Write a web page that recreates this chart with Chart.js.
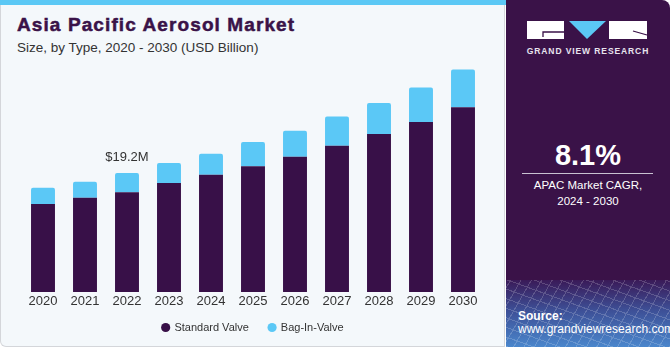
<!DOCTYPE html>
<html>
<head>
<meta charset="utf-8">
<script src="https://cdn.jsdelivr.net/npm/chart.js@4"></script>
<style>
  html, body { margin: 0; padding: 0; background: #ffffff; }
  body { width: 670px; height: 350px; position: relative; overflow: hidden; font-family: "Liberation Sans", Arial, sans-serif; }
  #left { position: absolute; left: 0; top: 0; width: 505px; height: 347px; background: #f4f8fb;
          border: 1px solid #d4d6da; border-top: none; border-radius: 0 0 0 6px; box-sizing: border-box; }
  #stripe { position: absolute; left: 0; top: 0; width: 506px; height: 5px; background: #5bc8f5; }
  #title { position: absolute; left: 17px; top: 14px; font-size: 19px; font-weight: bold; color: #3a1248;
           letter-spacing: 1.1px; -webkit-text-stroke: 0.5px #3a1248; white-space: nowrap; }
  #subtitle { position: absolute; left: 17px; top: 40px; font-size: 13.5px; color: #333; white-space: nowrap; }
  #chartBox { position: absolute; left: 0; top: 0; width: 506px; height: 350px; }
  #right { position: absolute; left: 506px; top: 0; width: 164px; height: 347px; background: #3a1248;
           border-radius: 0 8px 0 0; overflow: hidden; }
  #source { position: absolute; left: 0; top: 280px; width: 164px; height: 67px;
            background: linear-gradient(180deg, #3a1a58 0%, #3d4f96 45%, #4a86cc 100%); }
  #mesh { position: absolute; left: 0; top: 0; width: 100%; height: 100%; opacity: 0.18;
          background-image: repeating-linear-gradient(20deg, #fff 0 1px, transparent 1px 9px),
                            repeating-linear-gradient(-60deg, #fff 0 1px, transparent 1px 9px); }
  .w { position: absolute; color: #fff; white-space: nowrap; }
  #cagr { left: 0; width: 164px; top: 139px; text-align: center; font-size: 29px; font-weight: bold; }
  #rule { position: absolute; left: 16px; top: 173px; width: 131px; height: 1px; background: #c9c2d2; }
  #cagrText { left: 0; width: 164px; top: 177px; text-align: center; font-size: 11.5px; line-height: 16px; }
  #srcLabel { left: 12px; top: 309px; font-size: 12px; font-weight: bold; }
  #srcUrl { left: 12px; top: 322px; font-size: 12px; }
  #brand { left: 0; width: 164px; top: 46px; text-align: center; font-size: 8.5px; font-weight: bold; letter-spacing: 0.9px; color: #e8e4ee; }
</style>
</head>
<body>
<div id="left"></div>
<div id="stripe"></div>
<div id="title">Asia Pacific Aerosol Market</div>
<div id="subtitle">Size, by Type, 2020 - 2030 (USD Billion)</div>
<div id="chartBox"><canvas id="aerosolChart"></canvas></div>
<div id="right">
  <svg style="position:absolute;left:0;top:0" width="164" height="45">
    <rect x="21" y="21" width="37" height="18" fill="#ffffff"/>
    <polyline points="58,32 37,32 37,37" fill="none" stroke="#3a1248" stroke-width="1.3"/>
    <polygon points="63,21 100,21 81,39" fill="#5bc8f5"/>
    <rect x="103" y="21" width="38" height="18" fill="#ffffff"/>
    <line x1="127" y1="31" x2="141" y2="35" stroke="#3a1248" stroke-width="1.3"/>
  </svg>
  <div class="w" id="brand">GRAND VIEW RESEARCH</div>
  <div class="w" id="cagr">8.1%</div>
  <div id="rule"></div>
  <div class="w" id="cagrText">APAC Market CAGR,<br>2024 - 2030</div>
  <div id="source"><div id="mesh"></div></div>
  <div class="w" id="srcLabel">Source:</div>
  <div class="w" id="srcUrl">www.grandviewresearch.com</div>
</div>
<script>
const years = ['2020', '2021', '2022', '2023', '2024', '2025', '2026', '2027', '2028', '2029', '2030'];
const standardValve = [14.2, 15.2, 16.1, 17.6, 18.9, 20.3, 21.8, 23.6, 25.5, 27.4, 29.8];
const bagInValve = [2.6, 2.6, 3.1, 3.2, 3.4, 3.9, 4.2, 4.7, 5.0, 5.6, 6.1];
const calloutIndex = 2;
const calloutText = '$19.2M';

// value label above the 2022 stack
const calloutPlugin = {
    id: 'callout',
    afterDatasetsDraw(chart) {
        const bar = chart.getDatasetMeta(1).data[calloutIndex];
        const ctx = chart.ctx;
        ctx.save();
        ctx.font = '13px "Liberation Sans", Arial, sans-serif';
        ctx.fillStyle = '#333333';
        ctx.textAlign = 'center';
        ctx.textBaseline = 'middle';
        ctx.fillText(calloutText, bar.x, bar.y - 16);
        ctx.restore();
    }
};

// x axis is squeezed to 10px so the legend sits close; let its labels overflow the box
const labelRoom = {
    id: 'labelRoom',
    afterLayout(chart) {
        chart.scales.x.bottom = chart.scales.x.top + 22;
    }
};

const ctx = document.getElementById('aerosolChart').getContext('2d');
const myChart = new Chart(ctx, {
    type: 'bar',
    data: {
        labels: years,
        datasets: [{
            label: 'Standard Valve',
            data: standardValve,
            backgroundColor: '#381048',
            borderWidth: 0
        }, {
            label: 'Bag-In-Valve',
            data: bagInValve,
            backgroundColor: '#5bc8f6',
            borderWidth: 0,
            borderRadius: {topLeft: 2, topRight: 2}
        }]
    },
    options: {
        responsive: true,
        maintainAspectRatio: false,
        animation: false,
        layout: {
            padding: {left: 22, right: 22, top: 44, bottom: 7}
        },
        datasets: {
            bar: {categoryPercentage: 1, barPercentage: 0.57}
        },
        plugins: {
            tooltip: {enabled: false},
            legend: {
                position: 'bottom',
                labels: {
                    usePointStyle: true,
                    pointStyle: 'circle',
                    boxWidth: 6.5,
                    boxHeight: 6.5,
                    padding: 20,
                    color: '#333333',
                    font: {family: '"Liberation Sans", Arial, sans-serif', size: 11}
                }
            }
        },
        scales: {
            x: {
                stacked: true,
                grid: {display: false, drawTicks: false},
                border: {display: false},
                ticks: {
                    padding: 2,
                    color: '#333333',
                    font: {family: '"Liberation Sans", Arial, sans-serif', size: 13}
                },
                afterFit: (axis) => { axis.height = 10; }
            },
            y: {
                stacked: true,
                display: false,
                min: 0,
                max: 40
            }
        }
    },
    plugins: [calloutPlugin, labelRoom]
});
</script>
</body>
</html>
